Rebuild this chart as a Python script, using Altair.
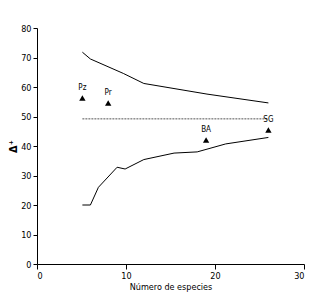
import altair as alt
import pandas as pd

upper_x = [5.1, 6.0, 9.7, 12.0, 19.1, 26.0]
upper_y = [71.8, 69.5, 64.6, 61.2, 57.6, 54.6]
lower_x = [5.1, 6.0, 6.9, 9.0, 9.9, 12.0, 15.4, 18.0, 21.2, 26.0]
lower_y = [20.0, 20.0, 26.0, 32.8, 32.2, 35.4, 37.6, 38.0, 40.7, 42.9]
mean_x = [5.1, 26.0]
mean_y = [49.2, 49.2]
site_names = ["Pz", "Pr", "BA", "SG"]
site_x = [5.1, 8.0, 19.0, 26.0]
site_y = [56.3, 54.6, 42.0, 45.4]

FONT = "Liberation Sans Narrow, DejaVu Sans Condensed, Liberation Sans, sans-serif"

up = pd.DataFrame({"x": upper_x, "y": upper_y, "k": "up"})
lo = pd.DataFrame({"x": lower_x, "y": lower_y, "k": "lo"})
mn = pd.DataFrame({"x": mean_x, "y": mean_y})
sites = pd.DataFrame({"name": site_names, "x": site_x, "y": site_y})

xs = alt.Scale(domain=[0, 30])
ys = alt.Scale(domain=[0, 80])
xaxis = alt.Axis(values=[0, 10, 20, 30], title="Número de especies",
                 grid=False, domainColor="black", tickColor="black", tickSize=5, labelOverlap=False,
                 labelFont=FONT, labelFontSize=9, labelColor="black", titleFont=FONT,
                 titleFontSize=9, titleFontWeight="normal", titleColor="black", titlePadding=2)
yaxis = alt.Axis(values=list(range(0, 81, 10)), title="Δ⁺",
                 grid=False, domainColor="black", tickColor="black", tickSize=4, labelOverlap=False,
                 labelFont=FONT, labelFontSize=9, labelColor="black", titleFont=FONT,
                 titleFontSize=11, titleFontWeight="bold", titleColor="black", titlePadding=2)

def X():
    return alt.X("x:Q", scale=xs, axis=xaxis)

def Y():
    return alt.Y("y:Q", scale=ys, axis=yaxis)

lines = alt.Chart(pd.concat([up, lo])).mark_line(color="black", strokeWidth=1).encode(
    x=X(), y=Y(), detail="k:N")
mean = alt.Chart(mn).mark_line(color="#555555", strokeWidth=1, strokeDash=[2, 1]).encode(
    x=X(), y=Y())
tri = alt.Chart(sites).mark_point(shape="triangle-up", filled=True, color="black", size=40, opacity=1).encode(
    x=X(), y=Y())
lab = alt.Chart(sites).mark_text(font=FONT, fontSize=8, color="black", dy=-10).encode(
    x=X(), y=Y(), text="name:N")

chart = alt.layer(lines, mean, tri, lab).properties(
    width=267, height=236,
    autosize=alt.AutoSizeParams(type="none"),
    padding={"left": 29, "top": 20, "right": 10, "bottom": 30},
).configure_view(stroke=None)

chart.save("out.html", embed_options={"renderer": "svg", "actions": False})
